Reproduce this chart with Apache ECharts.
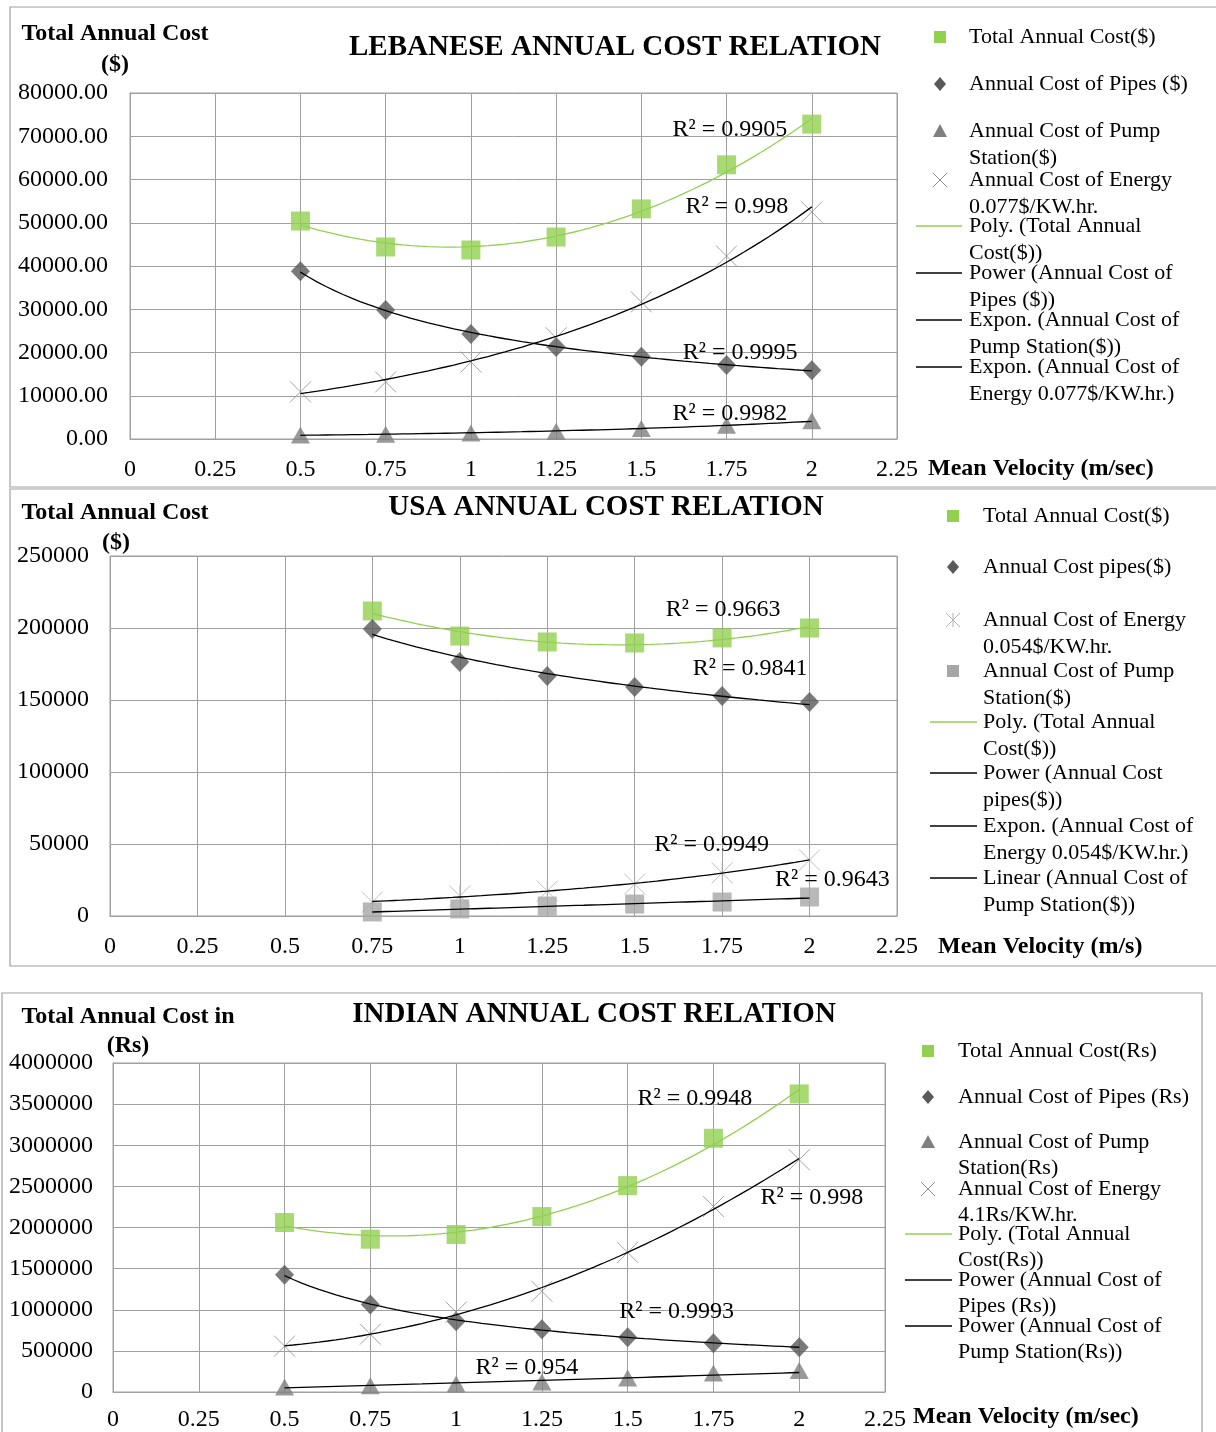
<!DOCTYPE html>
<html>
<head>
<meta charset="utf-8">
<script src="https://cdn.jsdelivr.net/npm/echarts@6.0.0/dist/echarts.min.js"></script>
<style>
  html, body { margin: 0; padding: 0; background: #ffffff; }
  #chart { width: 1216px; height: 1432px; }
</style>
</head>
<body>
<div id="chart"></div>
<script>
// ---------- Lebanese panel data ($) ----------
const lbVelocity = [0.5, 0.75, 1, 1.25, 1.5, 1.75, 2];
const lbTotal    = [50400, 44400, 43700, 46700, 53200, 63400, 72800];
const lbPipes    = [38800, 29800, 24300, 21300, 19000, 17100, 15900];
const lbPump     = [900, 1100, 1400, 1800, 2400, 3200, 4200];
const lbEnergy   = [10900, 13200, 17800, 23400, 31700, 42300, 52500];
const lbR2       = ['R² = 0.9905', 'R² = 0.998', 'R² = 0.9995', 'R² = 0.9982'];

// ---------- USA panel data ($) ----------
const usVelocity = [0.75, 1, 1.25, 1.5, 1.75, 2];
const usTotal    = [211800, 194400, 190300, 189600, 193100, 200000];
const usPipes    = [199300, 176400, 166700, 159000, 152800, 148600];
const usEnergy   = [9700, 13900, 17400, 22200, 29900, 38900];
const usPump     = [2800, 4900, 6900, 8300, 9700, 13200];
const usR2       = ['R² = 0.9663', 'R² = 0.9841', 'R² = 0.9949', 'R² = 0.9643'];

// ---------- Indian panel data (Rs) ----------
const inVelocity = [0.5, 0.75, 1, 1.25, 1.5, 1.75, 2];
const inTotal    = [2061000, 1858000, 1915000, 2133000, 2509000, 3085000, 3624000];
const inPipes    = [1425000, 1065000, 860000, 764000, 667000, 594000, 545000];
const inPump     = [60000, 75000, 97000, 121000, 170000, 230000, 260000];
const inEnergy   = [558000, 703000, 970000, 1224000, 1697000, 2255000, 2824000];
const inR2       = ['R² = 0.9948', 'R² = 0.998', 'R² = 0.9993', 'R² = 0.954'];

// ---------- axis ranges / titles ----------
const velocityTicks = { min: 0, max: 2.25, step: 0.25 };
const lbCostTicks = { min: 0, max: 80000, step: 10000 };
const usCostTicks = { min: 0, max: 250000, step: 50000 };
const inCostTicks = { min: 0, max: 4000000, step: 500000 };

const lbTitle = 'LEBANESE ANNUAL COST RELATION';
const usTitle = 'USA ANNUAL COST RELATION';
const inTitle = 'INDIAN ANNUAL COST RELATION';

// ---------- styling ----------
const SERIF = '"Liberation Serif", "Times New Roman", serif';
const GREEN = '#92D050';
const DIAMOND = '#595959';
const TRI = '#7f7f7f';
const CROSS = '#8c8c8c';
const LIGHT_SQ = '#a6a6a6';
const GRID_LINE = '#a0a0a0';

const CROSS_PATH = 'path://M0,0L10,10M10,0L0,10';
const STAR_PATH = 'path://M0,0L10,10M10,0L0,10M5,0L5,10';

// ---------- regression helpers for the trend lines ----------
function linFit(us, vs) {
  const n = us.length;
  let su = 0, sv = 0, suu = 0, suv = 0;
  for (let i = 0; i < n; i++) { su += us[i]; sv += vs[i]; suu += us[i] * us[i]; suv += us[i] * vs[i]; }
  const b = (n * suv - su * sv) / (n * suu - su * su);
  const a = (sv - b * su) / n;
  return { a, b };
}
function poly2Fit(xs, ys) {
  const S = [0, 0, 0, 0, 0], T = [0, 0, 0];
  xs.forEach((x, i) => {
    for (let k = 0; k < 5; k++) S[k] += Math.pow(x, k);
    for (let k = 0; k < 3; k++) T[k] += ys[i] * Math.pow(x, k);
  });
  const M = [[S[0], S[1], S[2], T[0]], [S[1], S[2], S[3], T[1]], [S[2], S[3], S[4], T[2]]];
  for (let c = 0; c < 3; c++) {
    for (let r = c + 1; r < 3; r++) {
      const f = M[r][c] / M[c][c];
      for (let k = c; k < 4; k++) M[r][k] -= f * M[c][k];
    }
  }
  const coef = [0, 0, 0];
  for (let r = 2; r >= 0; r--) {
    let s = M[r][3];
    for (let k = r + 1; k < 3; k++) s -= M[r][k] * coef[k];
    coef[r] = s / M[r][r];
  }
  return x => coef[0] + coef[1] * x + coef[2] * x * x;
}
function trendFn(kind, xs, ys) {
  if (kind === 'poly') return poly2Fit(xs, ys);
  if (kind === 'linear') { const f = linFit(xs, ys); return x => f.a + f.b * x; }
  if (kind === 'expon') { const f = linFit(xs, ys.map(Math.log)); return x => Math.exp(f.a + f.b * x); }
  if (kind === 'power') { const f = linFit(xs.map(Math.log), ys.map(Math.log)); return x => Math.exp(f.a) * Math.pow(x, f.b); }
}
function trendPoints(kind, xs, ys) {
  const fn = trendFn(kind, xs, ys);
  const lo = Math.min(...xs), hi = Math.max(...xs), n = 60;
  const pts = [];
  for (let i = 0; i <= n; i++) { const x = lo + (hi - lo) * i / n; pts.push([x, fn(x)]); }
  return pts;
}
const pairs = (xs, ys) => xs.map((x, i) => [x, ys[i]]);

// ---------- panel definitions ----------
const panels = [
  {
    grid: { left: 130, top: 93, width: 767, height: 346 },
    ticks: lbCostTicks, yFmt: v => v.toFixed(2), xMargin: 19, yMargin: 22,
    border: { x: 10, y: 7, w: 1230, h: 480 },
    title: { text: lbTitle, x: 615, y: 48 },
    yTitle: { lines: ['Total Annual Cost', '($)'], x: 115, y: [34, 65] },
    xTitle: { text: 'Mean Velocity (m/sec)', x: 928, y: 469 },
    points: [
      { name: 'Total Annual Cost($)', xs: lbVelocity, ys: lbTotal, symbol: 'rect', size: 19, color: GREEN, icon: 'rect' },
      { name: 'Annual Cost of Pipes ($)', xs: lbVelocity, ys: lbPipes, symbol: 'diamond', size: [19, 20], color: DIAMOND, icon: 'diamond' },
      { name: 'Annual Cost of Pump\nStation($)', xs: lbVelocity, ys: lbPump, symbol: 'triangle', size: [19, 17], color: TRI, icon: 'triangle' },
      { name: 'Annual Cost of Energy\n0.077$/KW.hr.', xs: lbVelocity, ys: lbEnergy, symbol: CROSS_PATH, size: 21, color: CROSS, stroke: true, icon: 'cross' }
    ],
    trends: [
      { name: 'Poly. (Total Annual\nCost($))', src: 0, kind: 'poly', color: GREEN },
      { name: 'Power (Annual Cost of\nPipes ($))', src: 1, kind: 'power', color: '#000' },
      { name: 'Expon. (Annual Cost of\nPump Station($))', src: 2, kind: 'expon', color: '#000' },
      { name: 'Expon. (Annual Cost of\nEnergy 0.077$/KW.hr.)', src: 3, kind: 'expon', color: '#000' }
    ],
    r2: lbR2, r2At: [[1.76, 71600], [1.78, 53700], [1.79, 19900], [1.76, 5800]],
    legend: { iconX: 940, textX: 969, lineX: [916, 962], ys: [37, 84, 131, 180, 226, 273, 320, 367], lh: 27 }
  },
  {
    grid: { left: 110, top: 556, width: 787, height: 360 },
    ticks: usCostTicks, yFmt: v => String(v), xMargin: 19, yMargin: 21,
    border: { x: 10, y: 489, w: 1230, h: 477 },
    title: { text: usTitle, x: 606, y: 508 },
    yTitle: { lines: ['Total Annual Cost', '($)'], x: 115, y: [513, 543], x2: 116 },
    xTitle: { text: 'Mean Velocity (m/s)', x: 938, y: 947 },
    points: [
      { name: 'Total Annual Cost($)', xs: usVelocity, ys: usTotal, symbol: 'rect', size: 19, color: GREEN, icon: 'rect' },
      { name: 'Annual Cost pipes($)', xs: usVelocity, ys: usPipes, symbol: 'diamond', size: [19, 20], color: DIAMOND, icon: 'diamond' },
      { name: 'Annual Cost of Energy\n0.054$/KW.hr.', xs: usVelocity, ys: usEnergy, symbol: STAR_PATH, size: 21, color: '#b0b0b0', stroke: true, icon: 'star' },
      { name: 'Annual Cost of Pump\nStation($)', xs: usVelocity, ys: usPump, symbol: 'rect', size: 19, color: LIGHT_SQ, icon: 'rectLight' }
    ],
    trends: [
      { name: 'Poly. (Total Annual\nCost($))', src: 0, kind: 'poly', color: GREEN },
      { name: 'Power (Annual Cost\npipes($))', src: 1, kind: 'power', color: '#000' },
      { name: 'Expon. (Annual Cost of\nEnergy 0.054$/KW.hr.)', src: 2, kind: 'expon', color: '#000' },
      { name: 'Linear (Annual Cost of\nPump Station($))', src: 3, kind: 'linear', color: '#000' }
    ],
    r2: usR2, r2At: [[1.753, 212400], [1.83, 171600], [1.72, 49400], [2.065, 25000]],
    legend: { iconX: 953, textX: 983, lineX: [930, 977], ys: [516, 567, 620, 671, 722, 773, 826, 878], lh: 27 }
  },
  {
    grid: { left: 113, top: 1063, width: 772, height: 330 },
    ticks: inCostTicks, yFmt: v => String(v), xMargin: 16, yMargin: 20,
    border: { x: 2, y: 993, w: 1200, h: 480 },
    title: { text: inTitle, x: 594, y: 1015 },
    yTitle: { lines: ['Total Annual Cost in', '(Rs)'], x: 128, y: [1017, 1046] },
    xTitle: { text: 'Mean Velocity (m/sec)', x: 913, y: 1417 },
    points: [
      { name: 'Total Annual Cost(Rs)', xs: inVelocity, ys: inTotal, symbol: 'rect', size: 19, color: GREEN, icon: 'rect' },
      { name: 'Annual Cost of Pipes (Rs)', xs: inVelocity, ys: inPipes, symbol: 'diamond', size: [19, 20], color: DIAMOND, icon: 'diamond' },
      { name: 'Annual Cost of Pump\nStation(Rs)', xs: inVelocity, ys: inPump, symbol: 'triangle', size: [19, 17], color: TRI, icon: 'triangle' },
      { name: 'Annual Cost of Energy\n4.1Rs/KW.hr.', xs: inVelocity, ys: inEnergy, symbol: CROSS_PATH, size: 21, color: CROSS, stroke: true, icon: 'cross' }
    ],
    trends: [
      { name: 'Poly. (Total Annual\nCost(Rs))', src: 0, kind: 'poly', color: GREEN },
      { name: 'Power (Annual Cost of\nPipes (Rs))', src: 1, kind: 'power', color: '#000' },
      { name: 'Power (Annual Cost of\nPump Station(Rs))', src: 2, kind: 'power', color: '#000' },
      { name: 'Energy trend', src: 3, kind: 'poly', color: '#000', noLegend: true }
    ],
    r2: inR2, r2At: [[1.696, 3560000], [2.037, 2360000], [1.643, 980000], [1.206, 290000]],
    legend: { iconX: 928, textX: 958, lineX: [905, 952], ys: [1051, 1097, 1142, 1189, 1234, 1280, 1326], lh: 26 }
  }
];

// ---------- build options ----------
const grids = [], xAxes = [], yAxes = [], series = [], graphics = [];

function legendIcon(kind, cx, cy, color, lineX) {
  switch (kind) {
    case 'rect':
      return [{ type: 'rect', shape: { x: cx - 6, y: cy - 6, width: 12, height: 12 }, style: { fill: GREEN } }];
    case 'rectLight':
      return [{ type: 'rect', shape: { x: cx - 6, y: cy - 6, width: 12, height: 12 }, style: { fill: LIGHT_SQ } }];
    case 'diamond':
      return [{ type: 'polygon', shape: { points: [[cx, cy - 7], [cx + 6, cy], [cx, cy + 7], [cx - 6, cy]] }, style: { fill: DIAMOND } }];
    case 'triangle':
      return [{ type: 'polygon', shape: { points: [[cx, cy - 7], [cx + 7, cy + 6], [cx - 7, cy + 6]] }, style: { fill: TRI } }];
    case 'cross':
    case 'star': {
      const st = { stroke: kind === 'star' ? '#b0b0b0' : CROSS, lineWidth: 1 };
      const els = [
        { type: 'line', shape: { x1: cx - 7, y1: cy - 7, x2: cx + 7, y2: cy + 7 }, style: st },
        { type: 'line', shape: { x1: cx + 7, y1: cy - 7, x2: cx - 7, y2: cy + 7 }, style: st }
      ];
      if (kind === 'star') els.push({ type: 'line', shape: { x1: cx, y1: cy - 7, x2: cx, y2: cy + 7 }, style: st });
      return els;
    }
    default:
      return [{ type: 'line', shape: { x1: lineX[0], y1: cy, x2: lineX[1], y2: cy }, style: { stroke: color, lineWidth: 1.3 } }];
  }
}

panels.forEach((p, i) => {
  grids.push(Object.assign({ show: true, borderColor: GRID_LINE, borderWidth: 1, containLabel: false }, p.grid));
  xAxes.push({
    type: 'value', gridIndex: i, min: velocityTicks.min, max: velocityTicks.max, interval: velocityTicks.step,
    axisLine: { show: true, lineStyle: { color: GRID_LINE } }, axisTick: { show: false },
    splitLine: { show: true, lineStyle: { color: GRID_LINE, width: 1 } },
    axisLabel: { margin: p.xMargin, color: '#000', fontFamily: SERIF, fontSize: 24, showMinLabel: true, showMaxLabel: true,
                 formatter: v => String(+v.toFixed(2)) }
  });
  yAxes.push({
    type: 'value', gridIndex: i, min: p.ticks.min, max: p.ticks.max, interval: p.ticks.step,
    axisLine: { show: true, lineStyle: { color: GRID_LINE } }, axisTick: { show: false },
    splitLine: { show: true, lineStyle: { color: GRID_LINE, width: 1 } },
    axisLabel: { margin: p.yMargin, color: '#000', fontFamily: SERIF, fontSize: 24, formatter: p.yFmt }
  });

  p.points.forEach(s => {
    series.push({
      type: 'scatter', name: s.name, xAxisIndex: i, yAxisIndex: i, z: 3,
      symbol: s.symbol, symbolSize: s.size,
      itemStyle: s.stroke ? { color: 'none', borderColor: s.color, borderWidth: 1 } : { color: s.color },
      data: pairs(s.xs, s.ys)
    });
  });
  p.trends.forEach(t => {
    const src = p.points[t.src];
    series.push({
      type: 'line', name: t.name, xAxisIndex: i, yAxisIndex: i, z: 4,
      showSymbol: false, symbol: 'none', silent: true,
      lineStyle: { color: t.color, width: 1.3 },
      data: trendPoints(t.kind, src.xs, src.ys)
    });
  });

  // panel frame
  graphics.push({ type: 'rect', shape: { x: p.border.x, y: p.border.y, width: p.border.w, height: p.border.h },
                  style: { fill: 'none', stroke: '#a0a0a0', lineWidth: 1.2 }, z: -1 });
  // chart title
  graphics.push({ type: 'text', style: { text: p.title.text, x: p.title.x, y: p.title.y, align: 'center', verticalAlign: 'middle',
                  font: 'bold 29px ' + SERIF, fill: '#000' } });
  // y-axis title (two lines)
  p.yTitle.lines.forEach((ln, k) => {
    graphics.push({ type: 'text', style: { text: ln, x: k === 1 && p.yTitle.x2 ? p.yTitle.x2 : p.yTitle.x, y: p.yTitle.y[k],
                    align: 'center', verticalAlign: 'middle', font: 'bold 24px ' + SERIF, fill: '#000' } });
  });
  // x-axis title
  graphics.push({ type: 'text', style: { text: p.xTitle.text, x: p.xTitle.x, y: p.xTitle.y, align: 'left', verticalAlign: 'middle',
                  font: 'bold 24px ' + SERIF, fill: '#000' } });

  // legend
  const entries = p.points.map(s => ({ name: s.name, icon: s.icon, color: s.color }))
    .concat(p.trends.filter(t => !t.noLegend).map(t => ({ name: t.name, icon: 'line', color: t.color })));
  entries.forEach((e, k) => {
    const cy = p.legend.ys[k];
    legendIcon(e.icon, p.legend.iconX, cy, e.color, p.legend.lineX).forEach(g => graphics.push(g));
    graphics.push({ type: 'text', style: { text: e.name, x: p.legend.textX, y: cy - p.legend.lh / 2,
                    align: 'left', verticalAlign: 'top', lineHeight: p.legend.lh,
                    font: '22px ' + SERIF, fill: '#000' } });
  });
});

const chart = echarts.init(document.getElementById('chart'), null, { renderer: 'canvas' });
chart.setOption({
  backgroundColor: '#ffffff',
  animation: false,
  grid: grids,
  xAxis: xAxes,
  yAxis: yAxes,
  series: series,
  graphic: { elements: graphics }
});

// R² annotations, placed through each panel's axes
const r2Texts = [];
panels.forEach((p, i) => {
  p.r2.forEach((txt, k) => {
    const px = chart.convertToPixel({ gridIndex: i }, p.r2At[k]);
    r2Texts.push({ type: 'text', z: 100, style: { text: txt, x: px[0], y: px[1], align: 'center', verticalAlign: 'middle',
                   font: '24px ' + SERIF, fill: '#000' } });
  });
});
chart.setOption({ graphic: { elements: graphics.concat(r2Texts) } });
</script>
</body>
</html>
